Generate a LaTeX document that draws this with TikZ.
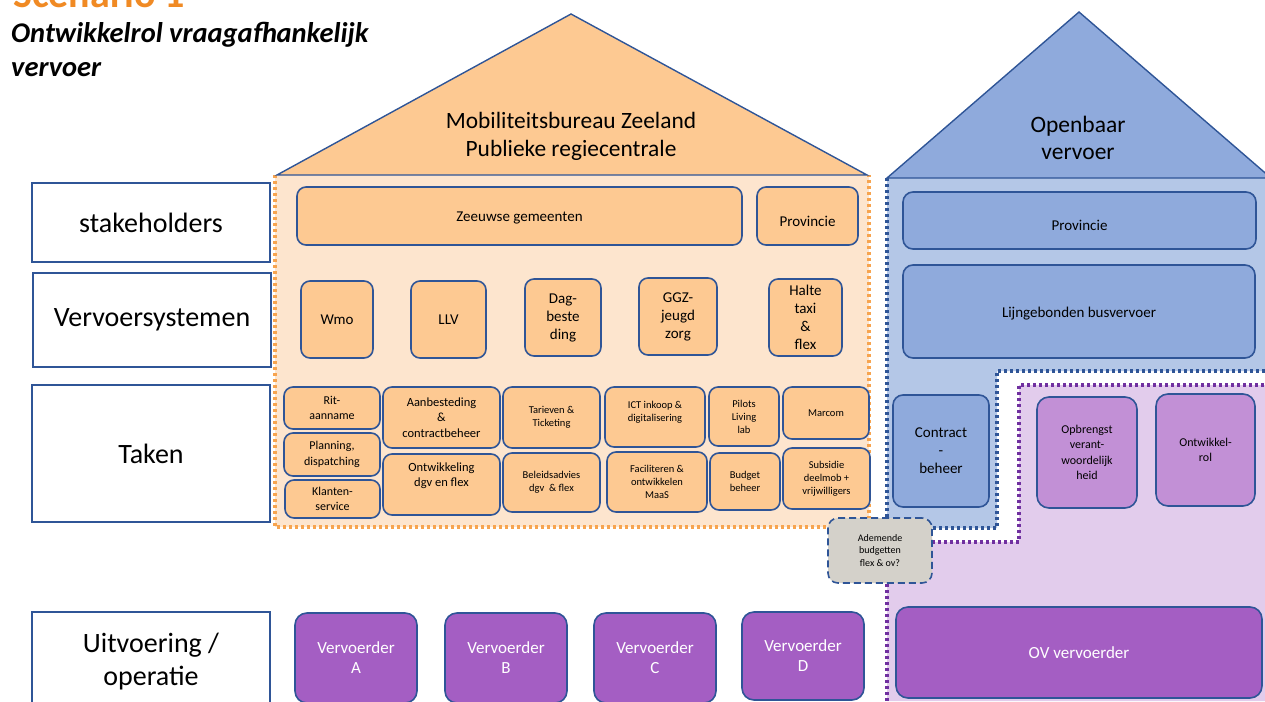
\documentclass[tikz,border=0pt]{standalone}
\usepackage{fontspec}
\setmainfont{Carlito}
\definecolor{bd}{HTML}{2F5597}
\definecolor{orb}{HTML}{FDC992}
\definecolor{orbg}{HTML}{FDE5CE}
\definecolor{ordot}{HTML}{F7A44F}
\definecolor{blb}{HTML}{8FAADC}
\definecolor{blbg}{HTML}{B4C7E7}
\definecolor{purdot}{HTML}{7030A0}
\definecolor{purbg}{HTML}{E2CCEC}
\definecolor{purmid}{HTML}{C290D6}
\definecolor{purdk}{HTML}{A45EC3}
\definecolor{greyb}{HTML}{D4D1CA}
\definecolor{scen}{HTML}{F08A24}
\newcommand\bx[7]{\node[#6, minimum width={#4pt-#2pt}, minimum height={#5pt-#3pt}] (#1) at ({(#2+#4)/2},{(#3+#5)/2}) {#7};}
\tikzset{
  base/.style={draw=bd, line width=1.6, align=center, inner sep=1, outer sep=0},
  lab/.style={base, fill=white, rounded corners=0, line width=1.5, font=\fontsize{28}{33}\selectfont},
  ob/.style={base, rounded corners=9, fill=orb},
  bb/.style={base, rounded corners=10, fill=blb},
  pm/.style={base, rounded corners=12, fill=purmid},
  pd/.style={base, rounded corners=12, fill=purdk, text=white, font=\fontsize{17}{20}\selectfont},
  gb/.style={base, rounded corners=10, fill=greyb, dashed, dash pattern=on 7pt off 4pt, font=\fontsize{10}{12.5}\selectfont},
  f10/.style={font=\fontsize{10.5}{13}\selectfont},
  f12/.style={font=\fontsize{12}{15.5}\selectfont},
  f13/.style={font=\fontsize{12.5}{15.5}\selectfont},
  f14/.style={font=\fontsize{15}{18}\selectfont},
  f15/.style={font=\fontsize{15}{18}\selectfont},
  dotline/.style={line width=3.5, dash pattern=on 3pt off 3pt},
  roof/.style={draw=bd, line width=1.4, line join=miter},
}
\begin{document}
\begin{tikzpicture}[x=1pt,y=-1pt]
\useasboundingbox (0,0) rectangle (1265,701);
% backgrounds
\fill[orbg] (275,175) rectangle (869,527);
\fill[blbg] (887,178) -- (1265,178) -- (1265,371) -- (997,371) -- (997,528) -- (887,528) -- cycle;
\fill[purbg] (887,542) -- (1019,542) -- (1019,385) -- (1265,385) -- (1265,701) -- (887,701) -- cycle;
% dotted borders
\draw[ordot, dotline] (275,175) -- (275,527) -- (869,527) -- (869,175);
\draw[bd, dotline] (887,178) -- (887,528) -- (997,528) -- (997,371) -- (1266,371);
\draw[purdot, dotline] (887,701) -- (887,542) -- (1019,542) -- (1019,385) -- (1266,385);
% roofs
\draw[roof, fill=orb] (277,175) -- (571,14) -- (867,175) -- cycle;
\node[align=center, font=\fontsize{23.4}{28}\selectfont] (roofo) at (571,136) {Mobiliteitsbureau Zeeland\\Publieke regiecentrale};
\draw[roof, fill=blb] (887,178) -- (1079,12) -- (1271,178) -- cycle;
\node[align=center, font=\fontsize{23.5}{27}\selectfont] (roofb) at (1078,138) {Openbaar\\vervoer};
% title
\node[anchor=base west, inner sep=0, text=scen, font=\fontsize{40}{44}\bfseries\selectfont] (scen) at (13,8) {Scenario 1};
\node[anchor=base west, inner sep=0, align=left, font=\fontsize{28.5}{34}\bfseries\itshape\selectfont] (title) at (11,76) {Ontwikkelrol vraagafhankelijk\\vervoer};
% left labels
\bx{lstake}{32}{183}{270}{262}{lab}{stakeholders}
\bx{lvervs}{33}{273}{271}{367}{lab}{Vervoersystemen}
\bx{ltaken}{32}{385}{270}{522}{lab}{Taken}
\bx{luitv}{32}{612}{270}{712}{lab}{Uitvoering /\\operatie}
% stakeholders
\bx{zeeuw}{297}{187}{742}{245}{ob,f14,text height=14pt}{Zeeuwse gemeenten}
\bx{provo}{757}{187}{858}{245}{ob,f14,text height=22pt}{Provincie}
\bx{provb}{903}{192}{1256}{249}{bb,f14,text height=20pt}{Provincie}
% vervoersystemen
\bx{wmo}{301}{281}{373}{358}{ob,f15}{Wmo}
\bx{llv}{411}{281}{486}{358}{ob,f15}{LLV}
\bx{dag}{525}{279}{601}{356}{ob,f15}{Dag-\\beste\\ding}
\bx{ggz}{639}{278}{717}{355}{ob,f15}{GGZ-\\jeugd\\zorg}
\bx{halte}{769}{279}{842}{356}{ob,f15}{Halte\\taxi\\\&\\flex}
\bx{lijn}{903}{265}{1255}{358}{bb,f14,text height=15pt}{Lijngebonden busvervoer}
% taken
\bx{rit}{284}{387}{380}{429}{ob,f12}{Rit-\\aanname}
\bx{plan}{284}{433}{380}{476}{ob,f12}{Planning,\\dispatching}
\bx{klant}{285}{480}{380}{518}{ob,f12}{Klanten-\\service}
\bx{aanb}{383}{387}{500}{448}{ob,f13}{Aanbesteding\\\&\\contractbeheer}
\bx{ontw}{383}{454}{500}{515}{ob,f13}{Ontwikkeling\\dgv en flex\\[4pt]}
\bx{tar}{503}{387}{600}{448}{ob,f10}{Tarieven \&\\Ticketing}
\bx{bel}{503}{453}{600}{512}{ob,f10}{Beleidsadvies\\dgv ~\& flex}
\bx{ict}{605}{387}{705}{447}{ob,f10}{ICT inkoop \&\\digitalisering\\[-1pt]}
\bx{fac}{607}{452}{707}{512}{ob,f10}{Faciliteren \&\\ontwikkelen\\MaaS}
\bx{pil}{709}{387}{779}{446}{ob,f10}{Pilots\\Living\\lab}
\bx{bud}{710}{453}{780}{510}{ob,f10}{Budget\\beheer}
\bx{mar}{783}{387}{869}{439}{ob,f10}{Marcom}
\bx{sub}{783}{448}{870}{509}{ob,f10}{Subsidie\\deelmob +\\vrijwilligers}
\bx{contr}{893}{395}{989}{507}{bb,f15}{Contract\\-\\beheer}
\bx{opbr}{1037}{397}{1137}{508}{pm,f12}{Opbrengst\\verant-\\woordelijk\\heid}
\bx{ontrol}{1156}{394}{1255}{506}{pm,f12}{Ontwikkel-\\rol}
\bx{adem}{828}{518}{932}{583}{gb}{Ademende\\budgetten\\flex \& ov?}
% uitvoering
\bx{va}{295}{613}{417}{703}{pd}{Vervoerder\\A}
\bx{vb}{445}{613}{567}{703}{pd}{Vervoerder\\B}
\bx{vc}{594}{613}{716}{703}{pd}{Vervoerder\\C}
\bx{vd}{742}{612}{864}{700}{pd}{Vervoerder\\D}
\bx{ov}{896}{607}{1262}{698}{pd}{OV vervoerder}
\end{tikzpicture}
\end{document}
